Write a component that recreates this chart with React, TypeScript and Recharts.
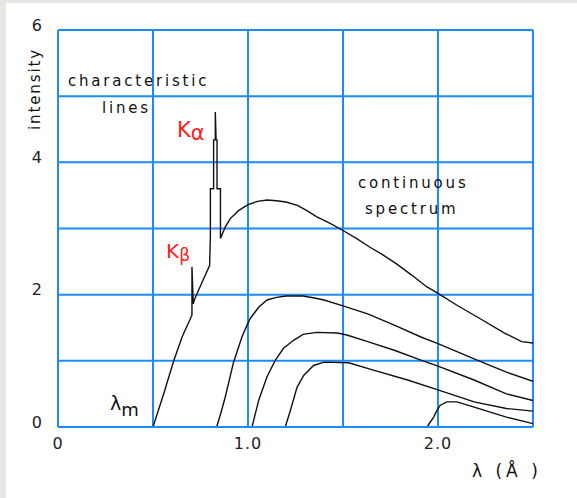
import React from "react";
import { LineChart, Line, XAxis, YAxis, CartesianGrid } from "recharts";

// wavelength (Å) / intensity pairs for each tube-voltage curve
const curveHighest: [number, number][] = [
  [0.5, 0], [0.556, 0.5], [0.608, 0.99], [0.653, 1.36], [0.705, 1.69],
  [0.705, 2.42], [0.712, 1.86], [0.72, 1.94], [0.76, 2.2], [0.798, 2.44],
  [0.802, 2.87], [0.802, 3.6], [0.819, 3.6], [0.819, 4.34], [0.828, 4.34],
  [0.828, 4.76], [0.832, 4.34], [0.837, 4.34], [0.837, 3.6], [0.855, 3.6],
  [0.855, 2.85], [0.88, 3.02], [0.907, 3.15], [0.95, 3.27], [1.0, 3.36],
  [1.05, 3.41], [1.1, 3.43], [1.15, 3.42], [1.2, 3.4], [1.26, 3.35],
  [1.31, 3.27], [1.36, 3.18], [1.43, 3.08], [1.5, 2.97], [1.57, 2.85],
  [1.64, 2.72], [1.71, 2.6], [1.78, 2.47], [1.86, 2.3], [1.94, 2.12],
  [2.0, 2.02], [2.1, 1.84], [2.22, 1.64], [2.35, 1.42], [2.44, 1.29], [2.5, 1.27],
];
const curveSecond: [number, number][] = [
  [0.835, 0], [0.858, 0.22], [0.88, 0.45], [0.924, 0.98], [0.968, 1.36],
  [0.995, 1.54], [1.012, 1.64], [1.056, 1.81], [1.1, 1.92], [1.15, 1.96],
  [1.2, 1.98], [1.29, 1.98], [1.35, 1.95], [1.4, 1.92], [1.5, 1.83],
  [1.63, 1.71], [1.77, 1.54], [1.91, 1.36], [2.0, 1.26], [2.19, 1.03],
  [2.36, 0.83], [2.5, 0.69],
];
const curveThird: [number, number][] = [
  [1.021, 0], [1.056, 0.4], [1.1, 0.76], [1.144, 1.01], [1.187, 1.19],
  [1.24, 1.31], [1.29, 1.4], [1.36, 1.43], [1.47, 1.42], [1.52, 1.39],
  [1.63, 1.29], [1.77, 1.16], [1.91, 1.01], [2.0, 0.92], [2.19, 0.71],
  [2.36, 0.5], [2.5, 0.4],
];
const curveFourth: [number, number][] = [
  [1.196, 0], [1.223, 0.25], [1.258, 0.6], [1.293, 0.78], [1.345, 0.93],
  [1.4, 0.98], [1.53, 0.97], [1.66, 0.86], [1.84, 0.71], [2.0, 0.56],
  [2.19, 0.38], [2.36, 0.28], [2.5, 0.24],
];
const curveLowest: [number, number][] = [
  [1.942, 0], [1.977, 0.15], [1.995, 0.25], [2.012, 0.33], [2.047, 0.38],
  [2.1, 0.38], [2.19, 0.3], [2.36, 0.15], [2.5, 0.05],
];

const xTicks = [0, 0.5, 1, 1.5, 2, 2.5];
const xTickLabels: Record<string, string> = { "0": "0", "1": "1.0", "2": "2.0" };
const yTicks = [0, 1, 2, 3, 4, 5, 6];
const yTickLabels: Record<string, string> = { "0": "0", "2": "2", "4": "4", "6": "6" };

const curves = [curveHighest, curveSecond, curveThird, curveFourth, curveLowest];
const toRows = (c: [number, number][]) => c.map(([x, y]) => ({ x, y }));

const FONT = "'DejaVu Sans', Verdana, sans-serif";
const BLUE = "#1a8cff";

const YTick = (props: any) => {
  const { x, y, payload } = props;
  const label = yTickLabels[String(payload.value)];
  if (!label) return <g />;
  return (
    <text x={x} y={y - 5} textAnchor="end" dominantBaseline="central"
      fontFamily={FONT} fontSize={16} fill="#222">{label}</text>
  );
};

const XTick = (props: any) => {
  const { x, y, payload } = props;
  const label = xTickLabels[String(payload.value)];
  if (!label) return <g />;
  return (
    <text x={x} y={y + 16} textAnchor="middle" dominantBaseline="central"
      fontFamily={FONT} fontSize={16} letterSpacing={1} fill="#222">{label}</text>
  );
};

export default function App() {
  return (
    <div style={{ position: "absolute", left: 0, top: 0, width: 577, height: 498, background: "#e7e7e1" }}>
      <div style={{ position: "absolute", left: 6, top: 3, width: 571, height: 495, background: "#fff" }}>
        <LineChart width={571} height={495} margin={{ top: 27, right: 44, left: 0, bottom: 41 }}>
          <CartesianGrid stroke={BLUE} strokeWidth={2} />
          <XAxis dataKey="x" type="number" domain={[0, 2.5]} ticks={xTicks} height={30}
            axisLine={{ stroke: BLUE, strokeWidth: 2 }} tickLine={false} tickSize={0} tickMargin={0}
            tick={<XTick />} interval={0} allowDataOverflow />
          <YAxis type="number" domain={[0, 6]} ticks={yTicks} width={52}
            axisLine={{ stroke: BLUE, strokeWidth: 2 }} tickLine={false} tickSize={0} tickMargin={16}
            tick={<YTick />} interval={0} allowDataOverflow />
          {curves.map((c, i) => (
            <Line key={i} data={toRows(c)} dataKey="y" type="linear" stroke="#111"
              strokeWidth={1.4} dot={false} activeDot={false} isAnimationActive={false} />
          ))}
        </LineChart>
      </div>
      <svg width={577} height={498} style={{ position: "absolute", left: 0, top: 0, pointerEvents: "none" }}>
        <g fontFamily={FONT} fill="#111">
          <text x={40} y={89} fontSize={15} letterSpacing={1.9} textAnchor="middle"
            transform="rotate(-90 40 89)">intensity</text>
          <text x={68} y={86} fontSize={15} letterSpacing={2.8}>characteristic</text>
          <text x={102} y={113} fontSize={15} letterSpacing={2.8}>lines</text>
          <text x={358} y={188} fontSize={15} letterSpacing={2.8}>continuous</text>
          <text x={365} y={214} fontSize={15} letterSpacing={2.8}>spectrum</text>
          <text x={110} y={410} fontSize={19}>λ<tspan fontSize={18} dy={6}>m</tspan></text>
          <text x={472} y={477} fontSize={17} letterSpacing={4}>λ (Å )</text>
        </g>
        <g fontFamily={FONT} fill="#ff2020">
          <text x={177} y={137} fontSize={21}>K<tspan dy={3}>α</tspan></text>
          <text x={166} y={258} fontSize={20}>K<tspan fontSize={17} dy={3}>β</tspan></text>
        </g>
      </svg>
    </div>
  );
}
